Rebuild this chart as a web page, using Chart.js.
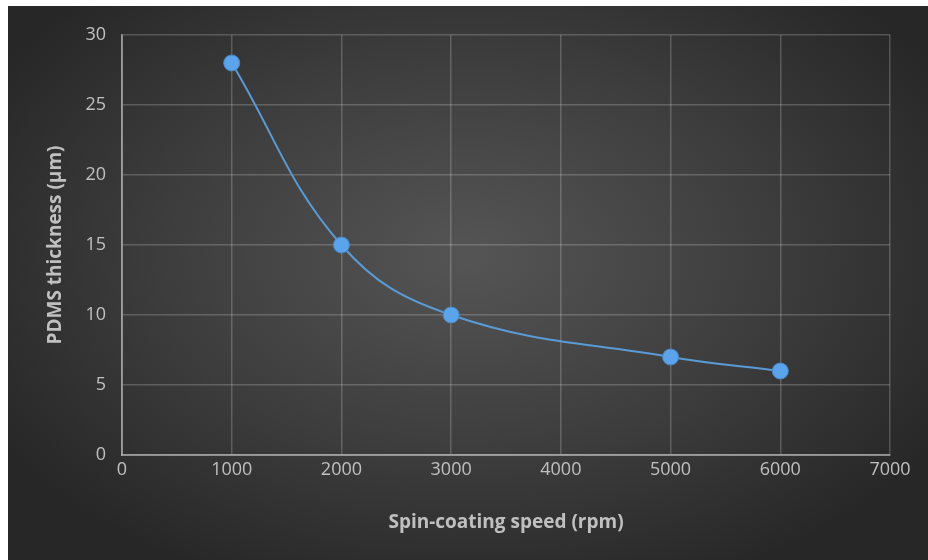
<!DOCTYPE html>
<html>
<head>
<meta charset="utf-8">
<script src="https://cdn.jsdelivr.net/npm/chart.js@4"></script>
<style>
  html, body { margin: 0; padding: 0; background: #fff; }
  #wrap {
    position: absolute; left: 8px; top: 6px; width: 920px; height: 554px;
    background: radial-gradient(ellipse 60% 65% at 50% 45%, #555555 0%, #3d3d3d 55%, #272727 100%);
  }
</style>
</head>
<body>
<div id="wrap"><canvas id="thickness-chart" width="920" height="554"></canvas></div>
<script>
const speeds = [1000, 2000, 3000, 5000, 6000];
const thickness = [28, 15, 10, 7, 6];
const xTicks = [0, 1000, 2000, 3000, 4000, 5000, 6000, 7000];
const yTicks = [0, 5, 10, 15, 20, 25, 30];

const tickColor = '#c0c0c0';
const gridColor = 'rgba(255,255,255,0.2)';

new Chart(document.getElementById('thickness-chart'), {
  type: 'line',
  data: {
    datasets: [{
      data: speeds.map((s, i) => ({ x: s, y: thickness[i] })),
      borderColor: '#5b9bd5',
      borderWidth: 2,
      tension: 0.4,
      pointRadius: 8,
      pointBackgroundColor: '#5ba3ea',
      pointBorderColor: '#4a88c4',
      pointBorderWidth: 1
    }]
  },
  options: {
    responsive: false,
    animation: false,
    layout: { padding: { top: 29, right: 38, left: 36, bottom: 22 } },
    plugins: { legend: { display: false }, tooltip: { enabled: false } },
    scales: {
      x: {
        type: 'linear',
        min: 0, max: 7000,
        afterBuildTicks: s => { s.ticks = xTicks.map(v => ({ value: v })); },
        afterFit: s => { s.height = 83; },
        grid: { color: gridColor, lineWidth: 1.5, drawTicks: false },
        border: { color: 'rgba(255,255,255,0.4)', width: 2 },
        ticks: { color: tickColor, padding: 4, callback: v => String(v), font: { family: 'Open Sans', size: 18 } },
        title: {
          display: true, text: 'Spin-coating speed (rpm)', color: tickColor,
          font: { family: 'Open Sans', size: 19, weight: 'bold' }, padding: { top: 0, bottom: 4 }
        }
      },
      y: {
        min: 0, max: 30,
        afterBuildTicks: s => { s.ticks = yTicks.map(v => ({ value: v })); },
        afterFit: s => { s.width = 78; },
        grid: { color: gridColor, lineWidth: 1.5, drawTicks: false },
        border: { color: 'rgba(255,255,255,0.4)', width: 2 },
        ticks: { color: tickColor, padding: 16, font: { family: 'Open Sans', size: 18 } },
        title: {
          display: true, text: 'PDMS thickness (µm)', color: tickColor,
          font: { family: 'Open Sans', size: 19, weight: 'bold' }, padding: 0
        }
      }
    }
  }
});
</script>
</body>
</html>
